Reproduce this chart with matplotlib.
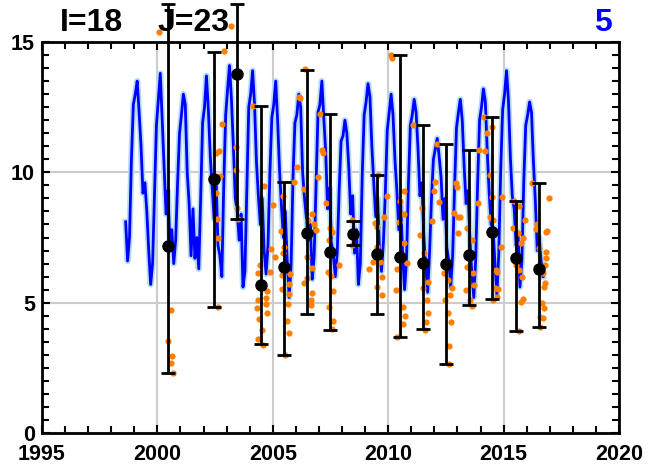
import numpy as np
import matplotlib
matplotlib.use("Agg")
import matplotlib.pyplot as plt
from matplotlib.ticker import MultipleLocator

plt.rcParams['font.family'] = ['Liberation Sans', 'DejaVu Sans']
plt.rcParams['font.weight'] = 'bold'

# monthly series, starts Aug 1998
blue_start = 1998 + 7 / 12
blue_vals = [
    8.1, 6.6, 7.5, 10.5, 12.6,
    13.0, 13.5, 12.3, 11.0, 9.2, 9.6, 8.5, 7.0, 5.7, 6.5, 9.2, 11.8,
    12.8, 13.8, 12.0, 10.3, 8.4, 9.3, 7.2, 7.8, 6.5, 7.4, 9.6, 11.5,
    12.2, 13.0, 12.6, 10.0, 8.8, 6.8, 8.6, 6.7, 7.5, 6.3, 9.0, 11.9,
    12.5, 13.7, 12.4, 10.6, 9.4, 8.2, 9.8, 7.2, 6.8, 6.0, 9.5, 12.2,
    13.2, 14.1, 12.8, 11.0, 9.0, 8.5, 7.4, 8.4, 5.6, 6.2, 9.4, 12.5,
    13.0, 13.9, 12.6, 10.4, 9.1, 8.0, 9.0, 7.0, 6.1, 7.2, 10.0, 12.1,
    12.6, 13.5, 12.0, 10.1, 8.7, 7.5, 8.5, 6.6, 5.2, 6.4, 9.8, 11.9,
    12.2, 13.0, 12.5, 10.0, 9.0, 8.2, 7.4, 8.0, 5.9, 6.8, 9.6, 12.3,
    12.6, 13.5, 12.1, 10.8, 8.6, 9.4, 7.3, 6.8, 6.0, 6.9, 9.3, 11.2,
    11.4, 12.0, 11.5, 10.2, 8.4, 9.1, 6.9, 7.8, 5.7, 6.5, 9.9, 12.2,
    12.7, 13.4, 12.9, 11.0, 9.6, 8.3, 9.0, 7.0, 6.2, 7.3, 9.2, 11.6,
    12.3, 13.0, 12.2, 10.5, 9.3, 7.8, 8.8, 6.9, 5.5, 6.6, 9.5, 11.8,
    12.2, 12.8, 12.3, 10.9, 9.1, 9.6, 7.6, 6.4, 5.4, 6.9, 9.0, 10.5,
    10.9, 11.3, 10.6, 9.8, 8.2, 9.0, 7.1, 6.6, 5.6, 6.8, 9.4, 11.7,
    12.3, 12.8, 12.0, 10.2, 8.8, 9.3, 7.4, 6.1, 5.2, 6.7, 9.6, 12.0,
    12.5, 13.2, 12.7, 10.8, 9.2, 8.0, 7.9, 6.5, 5.3, 6.9, 10.1, 12.4,
    13.0, 13.9, 12.8, 10.6, 9.1, 8.6, 7.2, 7.7, 5.6, 6.6, 9.7, 11.8,
    12.2, 12.7, 12.3, 10.4, 8.9, 7.0, 7.5, 6.6, 6.0,
]
blue_x = blue_start + (np.arange(len(blue_vals)) + 0.5) / 12

orange_x = [
    2000.05, 2000.59, 2000.45, 2000.63, 2000.60, 2000.68,
    2002.90, 2002.81, 2002.66, 2002.55, 2002.70, 2002.54, 2002.57, 2002.64, 2002.61,
    2003.19, 2003.39, 2003.42, 2003.45, 2003.48,
    2004.13, 2004.63, 2004.99, 2004.94, 2005.11, 2004.87, 2004.45, 2004.36, 2004.73,
    2004.69, 2004.37, 2004.71, 2004.33, 2004.75, 2004.39, 2004.52, 2004.36, 2004.56,
    2005.34, 2005.44, 2005.92, 2006.06, 2005.47, 2005.44, 2005.39, 2005.75, 2005.72,
    2005.39, 2005.69, 2005.66, 2005.62, 2005.70, 2005.54,
    2006.12, 2006.40, 2006.18, 2006.95, 2006.35, 2006.71, 2006.54, 2006.80, 2006.86,
    2006.47, 2006.35, 2006.69, 2006.65, 2006.64, 2006.69, 2006.50,
    2007.05, 2007.13, 2007.19, 2007.29, 2007.48, 2007.58, 2007.45, 2007.38, 2007.52,
    2007.62, 2007.45, 2007.62, 2007.58, 2007.86,
    2008.42, 2008.42,
    2009.57, 2009.93, 2009.82, 2009.43, 2009.50, 2009.18, 2009.64, 2009.72, 2009.53,
    2009.72, 2009.50, 2009.33,
    2010.12, 2010.18, 2010.68, 2010.51, 2010.70, 2010.48, 2010.37, 2010.34, 2010.65,
    2010.73, 2010.63, 2010.39, 2010.80, 2010.70,
    2011.09, 2011.45, 2011.38, 2011.88, 2011.55, 2011.74, 2011.49, 2011.67, 2011.74,
    2011.62, 2011.59,
    2012.13, 2012.03, 2011.97, 2012.19, 2012.86, 2013.04, 2013.02, 2012.94, 2012.97,
    2012.42, 2012.60, 2012.75, 2012.68, 2012.46, 2012.60, 2012.71, 2012.65, 2012.65,
    2013.92, 2013.88, 2013.40, 2013.62, 2013.40, 2013.72, 2013.54, 2013.69, 2013.37,
    2013.62, 2013.11,
    2014.15, 2014.51, 2014.27, 2014.19, 2014.41, 2014.48, 2014.94, 2014.41, 2014.55,
    2014.87, 2014.67, 2014.73, 2014.63, 2014.77, 2014.70, 2014.55,
    2015.45, 2015.67, 2015.42, 2015.64, 2015.85, 2015.74, 2015.93, 2015.54, 2015.68,
    2015.81, 2015.85, 2015.74, 2015.68,
    2016.22, 2016.97, 2016.46, 2016.87, 2016.39, 2016.84, 2016.53, 2016.84, 2016.82,
    2016.79, 2016.72, 2016.79, 2016.75, 2016.65, 2016.76, 2016.58, 2016.72, 2016.58,
]
orange_y = [
    15.40, 4.72, 3.54, 2.95, 2.67, 2.29,
    14.65, 11.85, 10.82, 10.73, 9.87, 9.22, 8.20, 7.50, 4.82,
    15.60, 10.98, 10.09, 8.62, 8.21,
    12.56, 9.46, 8.75, 7.06, 6.75, 6.19, 6.44, 6.15, 5.46,
    5.17, 5.10, 4.94, 4.81, 4.59, 4.36, 3.95, 3.59, 3.38,
    7.75, 9.10, 9.63, 10.21, 7.15, 6.89, 6.06, 6.09, 5.70,
    5.51, 5.33, 4.94, 4.31, 3.85, 2.98,
    12.88, 13.95, 12.85, 9.83, 9.35, 8.41, 8.17, 8.02, 7.79,
    6.76, 5.74, 5.36, 5.10, 4.91, 6.32, 5.93,
    12.24, 10.86, 10.73, 8.81, 7.85, 7.70, 7.40, 6.19, 6.02,
    5.46, 4.82, 4.31, 3.98, 6.44,
    8.17, 7.21,
    9.91, 9.09, 8.30, 8.04, 7.91, 6.29, 6.57, 6.00, 5.59,
    5.29, 7.15, 6.57,
    14.50, 14.37, 9.29, 8.90, 8.40, 8.11, 6.28, 5.49, 4.82,
    4.49, 4.18, 3.69, 6.51, 7.30,
    11.80, 8.64, 7.59, 8.13, 6.89, 5.80, 5.55, 5.10, 4.62,
    4.27, 3.95,
    11.07, 9.62, 9.29, 8.85, 8.43, 8.27, 7.68, 9.58, 9.45,
    6.14, 5.87, 5.55, 5.29, 5.10, 4.59, 4.27, 3.34, 2.63,
    10.86, 8.81, 7.85, 7.40, 6.38, 5.68, 5.10, 6.13, 5.49,
    4.87, 8.28,
    12.11, 11.73, 11.52, 10.83, 9.90, 9.07, 9.07, 8.30, 8.17,
    7.15, 6.25, 6.19, 5.55, 5.51, 5.23, 5.10,
    8.91, 8.71, 7.85, 7.66, 7.47, 7.28, 8.17, 6.44, 6.25,
    6.00, 5.13, 5.04, 3.91,
    9.58, 9.00, 8.00, 7.75, 7.83, 7.72, 7.08, 6.95, 6.70,
    6.44, 6.15, 5.74, 5.59, 4.97, 4.78, 4.44, 4.40, 4.05,
]

bar_x = [2000.46, 2002.45, 2003.46, 2004.47, 2005.47, 2006.47, 2007.48, 2008.49,
         2009.50, 2010.51, 2011.49, 2012.50, 2013.51, 2014.51, 2015.52, 2016.53]
bar_mean = [7.17, 9.76, 13.76, 5.68, 6.36, 7.68, 6.96, 7.65,
            6.87, 6.76, 6.51, 6.48, 6.83, 7.70, 6.73, 6.29]
bar_low = [2.30, 4.83, 8.21, 3.40, 2.98, 4.55, 3.95, 7.21,
           4.55, 3.69, 3.99, 2.63, 4.90, 5.13, 3.91, 4.05]
bar_high = [16.45, 14.62, 16.45, 12.54, 9.62, 13.92, 12.24, 8.14,
            9.90, 14.50, 11.80, 11.07, 10.86, 12.11, 8.91, 9.58]

fig = plt.figure(figsize=(6.49, 4.71), dpi=100)
ax = fig.add_axes([0.0647, 0.0807, 0.8891, 0.8301])

ax.plot(blue_x, blue_vals, color='#b3ddf5', lw=4.5, zorder=2)
ax.plot(blue_x, blue_vals, color='#0000ff', lw=2.0, zorder=3)
ax.plot(orange_x, orange_y, 'o', color='#ff8000', ms=4.5, mec='none',
        zorder=4, clip_on=False)

mean = np.array(bar_mean)
err = [mean - np.array(bar_low), np.array(bar_high) - mean]
eb = ax.errorbar(bar_x, bar_mean, yerr=err, fmt='o', color='black', ms=8,
                 elinewidth=2, capsize=5, capthick=2, zorder=5)
for a in [eb.lines[0], *eb.lines[1], *eb.lines[2]]:
    a.set_clip_on(False)

ax.set_xlim(1995, 2020)
ax.set_ylim(0, 15)
ax.xaxis.set_major_locator(MultipleLocator(5))
ax.xaxis.set_minor_locator(MultipleLocator(1))
ax.yaxis.set_major_locator(MultipleLocator(5))
ax.yaxis.set_minor_locator(MultipleLocator(0.5))
ax.grid(True, which='major', color='#cccccc', lw=1.5, zorder=0)
ax.set_axisbelow(True)
ax.tick_params(which='both', direction='in', top=True, right=True,
               width=1.5, labelsize=15.5)
ax.tick_params(which='major', length=6)
ax.tick_params(which='minor', length=5)
ax.tick_params(axis='x', pad=8)
ax.tick_params(axis='y', pad=5)
for s in ax.spines.values():
    s.set_linewidth(2)

fig.text(0.092, 0.935, 'I=18', fontsize=23, fontweight='bold', color='black')
fig.text(0.242, 0.935, 'J=23', fontsize=23, fontweight='bold', color='black')
fig.text(0.943, 0.935, '5', fontsize=23, fontweight='bold', color='#0000ff', ha='right')

fig.savefig('out.png', dpi=100)
